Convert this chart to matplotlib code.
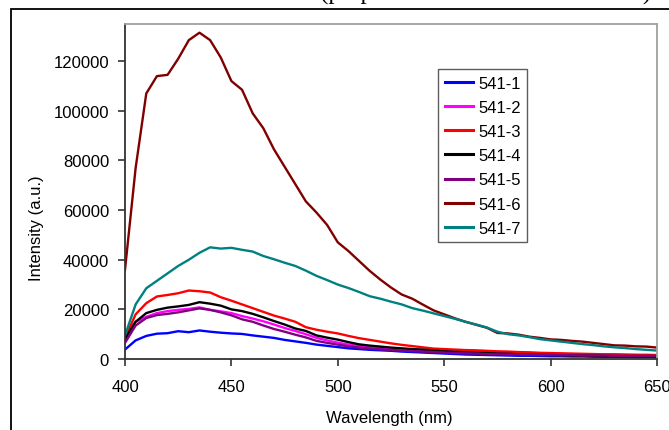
import matplotlib
matplotlib.use("Agg")
import matplotlib.pyplot as plt
from matplotlib.patches import Rectangle

wavelength = list(range(400, 651, 5))

s1 = [3800, 7500, 9300, 10200, 10400, 11200, 10800, 11500, 11000, 10600,
      10300, 10100, 9500, 9000, 8500, 7700, 7100, 6500, 5800, 5300,
      4800, 4300, 4000, 3700, 3500, 3300, 3000, 2800, 2600, 2400,
      2200, 2000, 1800, 1700, 1600, 1500, 1400, 1300, 1300, 1200,
      1100, 1100, 1000, 1000, 900, 900, 900, 800, 800, 800, 700]
s2 = [9500, 15000, 17000, 18500, 19300, 19800, 20200, 20800, 19800, 19200,
      18500, 17300, 16300, 15200, 13900, 12500, 11300, 10000, 8500, 7500,
      6600, 5800, 5200, 4700, 4400, 4100, 3900, 3700, 3600, 3400,
      3200, 3000, 2900, 2700, 2600, 2500, 2400, 2300, 2200, 2100,
      2100, 2000, 1900, 1800, 1800, 1700, 1700, 1600, 1600, 1500, 1500]
s3 = [8500, 18000, 22500, 25200, 25800, 26500, 27600, 27300, 26800, 24900,
      23500, 22000, 20500, 19000, 17500, 16300, 15000, 12800, 11800, 11000,
      10300, 9300, 8400, 7700, 7000, 6300, 5700, 5200, 4700, 4200,
      4000, 3800, 3600, 3500, 3300, 3100, 3000, 2800, 2700, 2500,
      2400, 2300, 2200, 2100, 2000, 1900, 1900, 1800, 1700, 1700, 1600]
s4 = [8000, 15000, 18500, 19800, 20700, 21200, 21800, 22900, 22300, 21500,
      20000, 19300, 18200, 16800, 15300, 13900, 12300, 11300, 9500, 8600,
      7800, 6800, 5900, 5400, 5000, 4600, 4300, 4000, 3800, 3400,
      3100, 2900, 2700, 2500, 2400, 2200, 2100, 1900, 1800, 1700,
      1600, 1500, 1400, 1300, 1300, 1200, 1100, 1100, 1000, 1000, 900]
s5 = [6500, 13500, 16500, 17700, 18200, 18800, 19600, 20400, 19800, 18800,
      17600, 16000, 15000, 13500, 12100, 11000, 9800, 8700, 7300, 6500,
      5800, 5100, 4600, 4200, 3900, 3700, 3400, 3200, 3000, 2800,
      2600, 2400, 2300, 2200, 2000, 1900, 1800, 1800, 1700, 1600,
      1600, 1500, 1500, 1400, 1400, 1400, 1300, 1300, 1300, 1300, 1300]
s6 = [36000, 77000, 107000, 114000, 114500, 121000, 128500, 131500, 128500, 121500,
      112000, 108500, 99000, 93000, 84500, 77500, 70500, 63500, 59000, 54000,
      47000, 43500, 39500, 35500, 32000, 28800, 26000, 24300, 21900, 19600,
      18000, 16400, 15000, 13800, 12600, 10500, 10300, 9800, 9000, 8500,
      7900, 7700, 7300, 7000, 6500, 6000, 5500, 5400, 5100, 5000, 4600]
s7 = [9500, 22000, 28500, 31500, 34500, 37500, 40000, 42800, 45000, 44500,
      44800, 44000, 43300, 41500, 40200, 38800, 37500, 35600, 33500, 31800,
      30000, 28600, 27000, 25300, 24300, 23100, 22000, 20500, 19500, 18400,
      17300, 16200, 15000, 13900, 12700, 11000, 10000, 9500, 8800, 8000,
      7500, 7000, 6500, 6000, 5600, 5100, 4700, 4400, 4000, 3700, 3400]

labels = ["541-1", "541-2", "541-3", "541-4", "541-5", "541-6", "541-7"]
series = [s1, s2, s3, s4, s5, s6, s7]
colors = ["#0000ff", "#ff00ff", "#ff0000", "#000000", "#800080", "#800000", "#008080"]

x_ticks = [400, 450, 500, 550, 600, 650]
y_ticks = [0, 20000, 40000, 60000, 80000, 100000, 120000]

plt.rcParams['font.family'] = ['Liberation Sans', 'DejaVu Sans']
FS = 12

W, H = 669, 431
fig = plt.figure(figsize=(W / 100, H / 100), dpi=100)
ax = fig.add_axes([125 / W, (H - 360) / H, 532 / W, 335 / H])

for ys, lab, c in zip(series, labels, colors):
    ax.plot(wavelength, ys, color=c, lw=1.7, label=lab)

ax.set_xlim(400, 650)
ax.set_ylim(0, 135000)
ax.set_xticks(x_ticks)
ax.set_yticks(y_ticks)
ax.set_xticklabels([str(v) for v in x_ticks])
ax.set_yticklabels([str(v) for v in y_ticks])
ax.tick_params(axis='both', direction='out', length=5, width=1.2, labelsize=FS,
               color='#333333', labelcolor='black')
ax.tick_params(axis='x', pad=9.5)
ax.tick_params(axis='y', pad=6.5)

for side in ['left', 'bottom']:
    ax.spines[side].set_color('#333333')
    ax.spines[side].set_linewidth(1.3)
for side in ['top', 'right']:
    ax.spines[side].set_color('#a0a0a0')
    ax.spines[side].set_linewidth(1.3)

fig.text(389 / W, 1 - 423 / H, "Wavelength (nm)", fontsize=FS,
         ha='center', va='baseline')
fig.text(37 / W, 1 - 228 / H, "Intensity (a.u.)", fontsize=FS,
         ha='center', va='center', rotation=90)

leg = ax.legend(loc='upper left', bbox_to_anchor=(438 / W, 1 - 70 / H),
                bbox_transform=fig.transFigure, fontsize=FS, frameon=True,
                fancybox=False, borderaxespad=0, borderpad=0.4,
                handlelength=1.7, handletextpad=0.3, labelspacing=0.55)
leg.get_frame().set_edgecolor('#333333')
leg.get_frame().set_linewidth(1.0)
for line in leg.get_lines():
    line.set_linewidth(2.2)

# outer chart border
fig.patches.append(Rectangle((10.5 / W, -0.1), 1.2, 1 - 10 / H + 0.1,
                             transform=fig.transFigure, fill=False,
                             edgecolor='black', lw=1.3))

# title cut off at the top
fig.text(320 / W, 1 + 0.5 / H, "(prepared at different conditions)",
         family=['Liberation Serif', 'DejaVu Serif'], fontsize=18,
         ha='left', va='baseline')

fig.savefig("out.png", dpi=100)
